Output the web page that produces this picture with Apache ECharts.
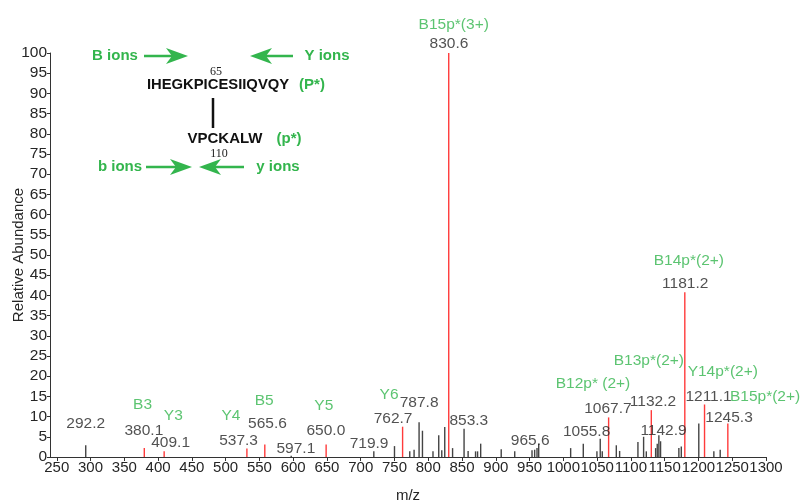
<!DOCTYPE html>
<html>
<head>
<meta charset="utf-8">
<script src="https://cdn.jsdelivr.net/npm/echarts@6/dist/echarts.min.js"></script>
<style>
  html, body { margin: 0; padding: 0; background: #fff; }
  #chart { width: 803px; height: 504px; }
</style>
</head>
<body>
<div id="chart"></div>
<script>
  // tick labels
  var xTicks = [250, 300, 350, 400, 450, 500, 550, 600, 650, 700, 750, 800, 850, 900, 950, 1000, 1050, 1100, 1150, 1200, 1250, 1300];

  // unassigned peaks (black)
  var blackMz = [292.9, 597.1, 719.4, 750.0, 772.6, 779.0, 786.4, 791.4, 807.0, 815.5, 820.0, 824.4, 836.0, 853.0, 859.0, 870.0, 873.0, 877.6, 908.0, 928.0, 953.6, 957.5, 961.0, 963.5, 1010.8, 1029.5, 1049.7, 1054.6, 1057.6, 1078.4, 1083.3, 1110.4, 1118.8, 1122.8, 1136.6, 1139.0, 1141.4, 1143.9, 1171.0, 1174.6, 1200.5, 1222.8, 1232.2];
  var blackAb = [2.9, 0.3, 1.4, 2.7, 1.4, 1.8, 8.6, 6.5, 1.4, 5.4, 1.7, 7.4, 2.2, 7.0, 1.5, 1.4, 1.4, 3.3, 1.9, 1.4, 1.7, 1.8, 2.2, 3.3, 2.2, 3.3, 1.4, 4.5, 1.4, 2.9, 1.5, 3.7, 5.0, 1.4, 2.2, 3.3, 5.4, 3.9, 2.2, 2.6, 8.3, 1.4, 1.8];

  // assigned fragment peaks (red)
  var redMz = [379.6, 409.0, 531.5, 558.0, 648.8, 762.0, 830.3, 1067.0, 1130.2, 1179.8, 1209.0, 1243.5];
  var redAb = [2.2, 1.4, 2.1, 3.1, 3.1, 7.5, 100, 9.8, 11.6, 40.8, 13.0, 8.3];

  // peak m/z labels: [m/z, abundance, text]
  var mzLabels = [
    [292.9, 8.3, '292.2'], [379, 6.6, '380.1'], [418.6, 3.5, '409.1'], [519.2, 4.1, '537.3'],
    [562, 8.3, '565.6'], [604, 2.1, '597.1'], [648.4, 6.6, '650.0'], [712.4, 3.3, '719.9'],
    [747.9, 9.5, '762.7'], [786.5, 13.5, '787.8'], [830.7, 102.2, '830.6'], [860, 9.1, '853.3'],
    [951, 4.1, '965.6'], [1034.4, 6.2, '1055.8'], [1066, 12, '1067.7'], [1132.6, 13.6, '1132.2'],
    [1148.3, 6.6, '1142.9'], [1180.4, 42.9, '1181.2'], [1214.9, 14.9, '1211.1'], [1245.3, 9.8, '1245.3']
  ];

  // ion assignment labels: [m/z, abundance, text]
  var ionLabels = [
    [377, 13.0, 'B3'], [422.5, 10.1, 'Y3'], [507.8, 10.1, 'Y4'], [557, 14.0, 'B5'],
    [645.4, 12.8, 'Y5'], [742, 15.5, 'Y6'], [837.7, 106.9, 'B15p*(3+)'], [1043.8, 18.2, 'B12p* (2+)'],
    [1126.6, 23.8, 'B13p*(2+)'], [1185.8, 48.5, 'B14p*(2+)'], [1236, 21, 'Y14p*(2+)'], [1298.6, 14.9, 'B15p*(2+)']
  ];

  var GREEN = '#33b54d';
  var INK = '#262626';
  var FONT = 'Liberation Sans, Arial, sans-serif';

  var chart = echarts.init(document.getElementById('chart'));

  function peakSeries(mz, ab, color) {
    return {
      type: 'custom',
      silent: true,
      clip: false,
      data: mz.map(function (m, i) { return [m, ab[i]]; }),
      renderItem: function (params, api) {
        var p0 = api.coord([api.value(0), 0]);
        var p1 = api.coord([api.value(0), api.value(1)]);
        return {
          type: 'line',
          shape: { x1: p0[0], y1: p0[1], x2: p1[0], y2: p1[1] },
          style: { stroke: color, lineWidth: 1.4 }
        };
      }
    };
  }

  function labelSeries(list, color) {
    return {
      type: 'scatter',
      silent: true,
      clip: false,
      symbolSize: 0,
      z: 5,
      data: list.map(function (d) { return { value: [d[0], d[1]], name: d[2] }; }),
      label: {
        show: true,
        position: 'inside',
        formatter: '{b}',
        color: color,
        fontSize: 15.5,
        fontFamily: FONT
      }
    };
  }

  // arrow in the peptide diagram (tail -> tip)
  function arrow(x1, x2, y) {
    var dir = x2 > x1 ? 1 : -1;
    var back = x2 - dir * 22;
    return [{
      type: 'line',
      shape: { x1: x1, y1: y, x2: x2 - dir * 6, y2: y },
      style: { stroke: GREEN, lineWidth: 2.5 }
    }, {
      type: 'polygon',
      shape: { points: [[x2, y], [back, y - 8], [back + dir * 6, y], [back, y + 8]] },
      style: { fill: GREEN }
    }];
  }

  function txt(x, y, text, size, color, weight, family) {
    return {
      type: 'text', x: x, y: y,
      style: {
        text: text, fill: color, fontSize: size, fontWeight: weight || 'normal',
        fontFamily: family || FONT, align: 'center', verticalAlign: 'middle'
      }
    };
  }

  var diagram = [
    txt(115, 56, 'B ions', 15, GREEN, 'bold'),
    txt(327, 56, 'Y ions', 15, GREEN, 'bold'),
    txt(216, 72, '65', 12, '#222', 'normal', 'Liberation Serif, Times New Roman, serif'),
    txt(218, 85, 'IHEGKPICESIIQVQY', 14.8, '#111', 'bold'),
    txt(312, 85, '(P*)', 15, GREEN, 'bold'),
    { type: 'line', shape: { x1: 213, y1: 98, x2: 213, y2: 128 }, style: { stroke: '#111', lineWidth: 2.5 } },
    txt(225, 139, 'VPCKALW', 15, '#111', 'bold'),
    txt(289, 139, '(p*)', 15, GREEN, 'bold'),
    txt(219, 154, '110', 12, '#222', 'normal', 'Liberation Serif, Times New Roman, serif'),
    txt(120, 167, 'b ions', 15, GREEN, 'bold'),
    txt(278, 167, 'y ions', 15, GREEN, 'bold')
  ].concat(arrow(144, 188, 56), arrow(293, 250, 56), arrow(146, 192, 167), arrow(244, 199, 167));

  chart.setOption({
    animation: false,
    textStyle: { fontFamily: FONT },
    grid: { left: 50, right: 37, top: 53, bottom: 47, outerBoundsMode: 'none' },
    xAxis: {
      type: 'value',
      min: 240,
      max: 1300,
      name: 'm/z',
      nameLocation: 'middle',
      nameGap: 31,
      nameMoveOverlap: false,
      nameTextStyle: { color: INK, fontSize: 15 },
      axisLine: { show: true, lineStyle: { color: '#333', width: 1 } },
      axisTick: { show: true, length: 4, customValues: xTicks, lineStyle: { color: '#333' } },
      axisLabel: {
        customValues: xTicks, interval: 0, margin: 3, color: INK, fontSize: 15,
        hideOverlap: false, showMaxLabel: true, showMinLabel: true,
        formatter: function (v) { return String(v); }
      },
      splitLine: { show: false }
    },
    yAxis: {
      type: 'value',
      min: 0,
      max: 100,
      interval: 5,
      name: 'Relative Abundance',
      nameLocation: 'middle',
      nameGap: 24,
      nameMoveOverlap: false,
      nameTextStyle: { color: INK, fontSize: 15 },
      axisLine: { show: true, lineStyle: { color: '#333', width: 1 } },
      axisTick: { show: true, length: 3, lineStyle: { color: '#333' } },
      axisLabel: { margin: 3, color: INK, fontSize: 15.5 },
      splitLine: { show: false }
    },
    graphic: diagram,
    series: [
      peakSeries(blackMz, blackAb, '#444'),
      peakSeries(redMz, redAb, '#ff3b3b'),
      labelSeries(mzLabels, INK),
      labelSeries(ionLabels, GREEN)
    ]
  });
</script>
</body>
</html>
